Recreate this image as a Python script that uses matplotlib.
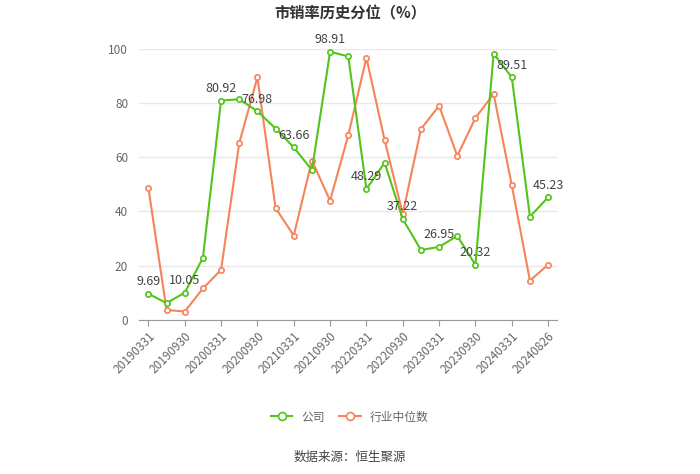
import matplotlib
matplotlib.use("Agg")
import matplotlib.pyplot as plt

plt.rcParams['font.family'] = ['Noto Sans CJK SC', 'DejaVu Sans']

# x categories (quarter ends + latest date)
dates = ["20190331", "20190630", "20190930", "20191231",
         "20200331", "20200630", "20200930", "20201231",
         "20210331", "20210630", "20210930", "20211231",
         "20220331", "20220630", "20220930", "20221231",
         "20230331", "20230630", "20230930", "20231231",
         "20240331", "20240630", "20240826"]

company = [9.69, 6.2, 10.05, 22.9, 80.92, 81.4, 76.98, 70.6, 63.66, 55.3,
           98.91, 97.2, 48.29, 58.0, 37.22, 25.8, 26.95, 31.0, 20.32, 98.2,
           89.51, 38.1, 45.23]

industry = [48.7, 3.7, 3.1, 11.6, 18.5, 65.2, 89.5, 41.3, 31.1, 58.8,
            44.0, 68.1, 96.7, 66.4, 39.1, 70.4, 79.0, 60.5, 74.5, 83.4,
            49.7, 14.5, 20.4]

green = "#52c41a"
orange = "#f5845c"

fig = plt.figure(figsize=(7, 4.74), dpi=100)
ax = fig.add_axes([0.199, 0.325, 0.597, 0.572])

x = list(range(len(dates)))
ax.plot(x, company, color=green, lw=1.5, marker='o', ms=3.8,
        mfc='white', mec=green, mew=1.2, label='公司', zorder=3)
ax.plot(x, industry, color=orange, lw=1.5, marker='o', ms=3.8,
        mfc='white', mec=orange, mew=1.2, label='行业中位数', zorder=2)

# value labels on every other company point
for i in range(0, len(dates), 2):
    ax.annotate(f"{company[i]:.2f}", (i, company[i]), xytext=(0, 4),
                textcoords='offset points', ha='center', va='bottom',
                fontsize=9, color='#444444', zorder=4)

ax.set_xlim(-0.5, len(dates) - 0.5)
ax.set_ylim(0, 100)
ax.set_yticks(range(0, 101, 20))
ax.grid(axis='y', color='#e8e8e8', lw=1)
ax.set_axisbelow(True)

ax.set_xticks(x[::2])
ax.set_xticklabels(dates[::2], rotation=45, ha='right', rotation_mode='anchor',
                   fontsize=8.5, color='#666666')
ax.tick_params(axis='x', length=4, color='#999999', pad=3)
ax.tick_params(axis='y', length=0, labelsize=8.5, labelcolor='#666666', pad=8)

for s in ['top', 'right', 'left']:
    ax.spines[s].set_visible(False)
ax.spines['bottom'].set_color('#999999')

fig.text(0.5, 0.972, "市销率历史分位（%）", ha='center', va='center',
         fontsize=11, fontweight='bold', color='#333333')

fig.legend(loc='center', bbox_to_anchor=(0.5, 0.12), ncol=2, frameon=False,
           fontsize=8.5, labelcolor='#666666', handlelength=1.8,
           columnspacing=1.2, markerscale=1.5)

fig.text(0.5, 0.034, "数据来源：恒生聚源", ha='center', va='center',
         fontsize=9, color='#444444')

fig.savefig("out.png", dpi=100)
